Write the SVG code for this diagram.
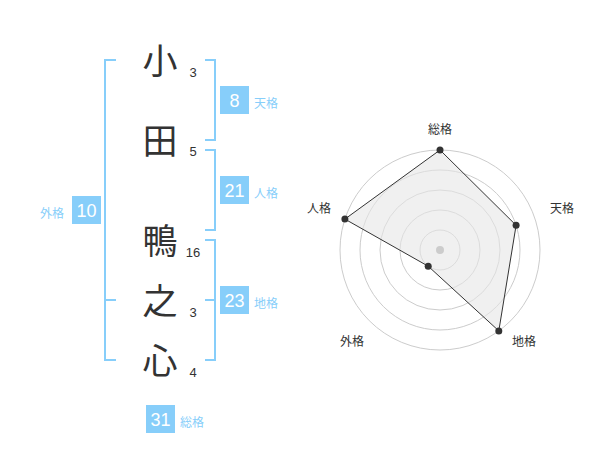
<svg xmlns="http://www.w3.org/2000/svg" width="600" height="470" viewBox="0 0 600 470">
<style>
.kanji{font-family:"Noto Sans CJK JP","Noto Sans CJK SC",sans-serif;font-size:35px;fill:#333;text-anchor:middle}
.num{font-family:"Liberation Sans",Arial,sans-serif;font-size:13px;fill:#333;text-anchor:middle}
.br{fill:none;stroke:#87cefa;stroke-width:2}
.box{fill:#87cefa}
.bn{font-family:"Liberation Sans",Arial,sans-serif;font-size:18px;fill:#fff;text-anchor:middle}
.lb{font-family:"Noto Sans CJK JP","Noto Sans CJK SC",sans-serif;font-size:12px;fill:#87cefa}
.rl{font-family:"Noto Sans CJK JP","Noto Sans CJK SC",sans-serif;font-size:12px;fill:#333;text-anchor:middle}
.ring{fill:none;stroke:#cccccc;stroke-width:1}
.dot{fill:#333}
</style>
<rect width="600" height="470" fill="#fff"/>
<g id="chars">
<text class="kanji" x="160" y="74">小</text>
<text class="kanji" x="160" y="154">田</text>
<text class="kanji" x="160" y="254">鴨</text>
<text class="kanji" x="160" y="314">之</text>
<text class="kanji" x="160" y="374">心</text>
<text class="num" x="193" y="77">3</text>
<text class="num" x="193" y="156">5</text>
<text class="num" x="193" y="257">16</text>
<text class="num" x="193" y="317">3</text>
<text class="num" x="193" y="377">4</text>
</g>
<g id="connectors">
<path class="br" d="M116,60 H105 V360 H116 M105,300 H116"/>
<path class="br" d="M205,60 H215 V140 H205"/>
<path class="br" d="M205,150 H215 V230 H205"/>
<path class="br" d="M205,240 H215 V360 H205 M205,300 H215"/>
</g>
<g id="tenkaku">
<rect class="box" x="220" y="86" width="29" height="28"/>
<text class="bn" x="234.5" y="106.5">8</text>
<text class="lb" x="254" y="108">天格</text>
</g>
<g id="jinkaku">
<rect class="box" x="220" y="176" width="29" height="28"/>
<text class="bn" x="234.5" y="196.5">21</text>
<text class="lb" x="254" y="198">人格</text>
</g>
<g id="chikaku">
<rect class="box" x="220" y="286" width="29" height="28"/>
<text class="bn" x="234.5" y="306.5">23</text>
<text class="lb" x="254" y="308">地格</text>
</g>
<g id="gaikaku">
<rect class="box" x="72" y="196" width="29" height="28"/>
<text class="bn" x="86.5" y="216.5">10</text>
<text class="lb" x="40" y="218">外格</text>
</g>
<g id="soukaku">
<rect class="box" x="146" y="405" width="29" height="28"/>
<text class="bn" x="160.5" y="425.5">31</text>
<text class="lb" x="180" y="427">総格</text>
</g>
<g id="radar">
<circle class="ring" cx="440" cy="250" r="20"/>
<circle class="ring" cx="440" cy="250" r="40"/>
<circle class="ring" cx="440" cy="250" r="60"/>
<circle class="ring" cx="440" cy="250" r="80"/>
<circle class="ring" cx="440" cy="250" r="100"/>
<polygon points="440,150 516.1,225.3 498.8,330.9 428.2,266.2 344.9,219.1" fill="#e6e6e6" fill-opacity="0.6" stroke="#333" stroke-width="1"/>
<circle cx="440" cy="250" r="4" fill="#cccccc"/>
<circle class="dot" cx="440" cy="150" r="3.5"/>
<circle class="dot" cx="516.1" cy="225.3" r="3.5"/>
<circle class="dot" cx="498.8" cy="330.9" r="3.5"/>
<circle class="dot" cx="428.2" cy="266.2" r="3.5"/>
<circle class="dot" cx="344.9" cy="219.1" r="3.5"/>
<text class="rl" x="440" y="134">総格</text>
<text class="rl" x="562" y="213">天格</text>
<text class="rl" x="524" y="346">地格</text>
<text class="rl" x="352" y="346">外格</text>
<text class="rl" x="319" y="213">人格</text>
</g>
</svg>
